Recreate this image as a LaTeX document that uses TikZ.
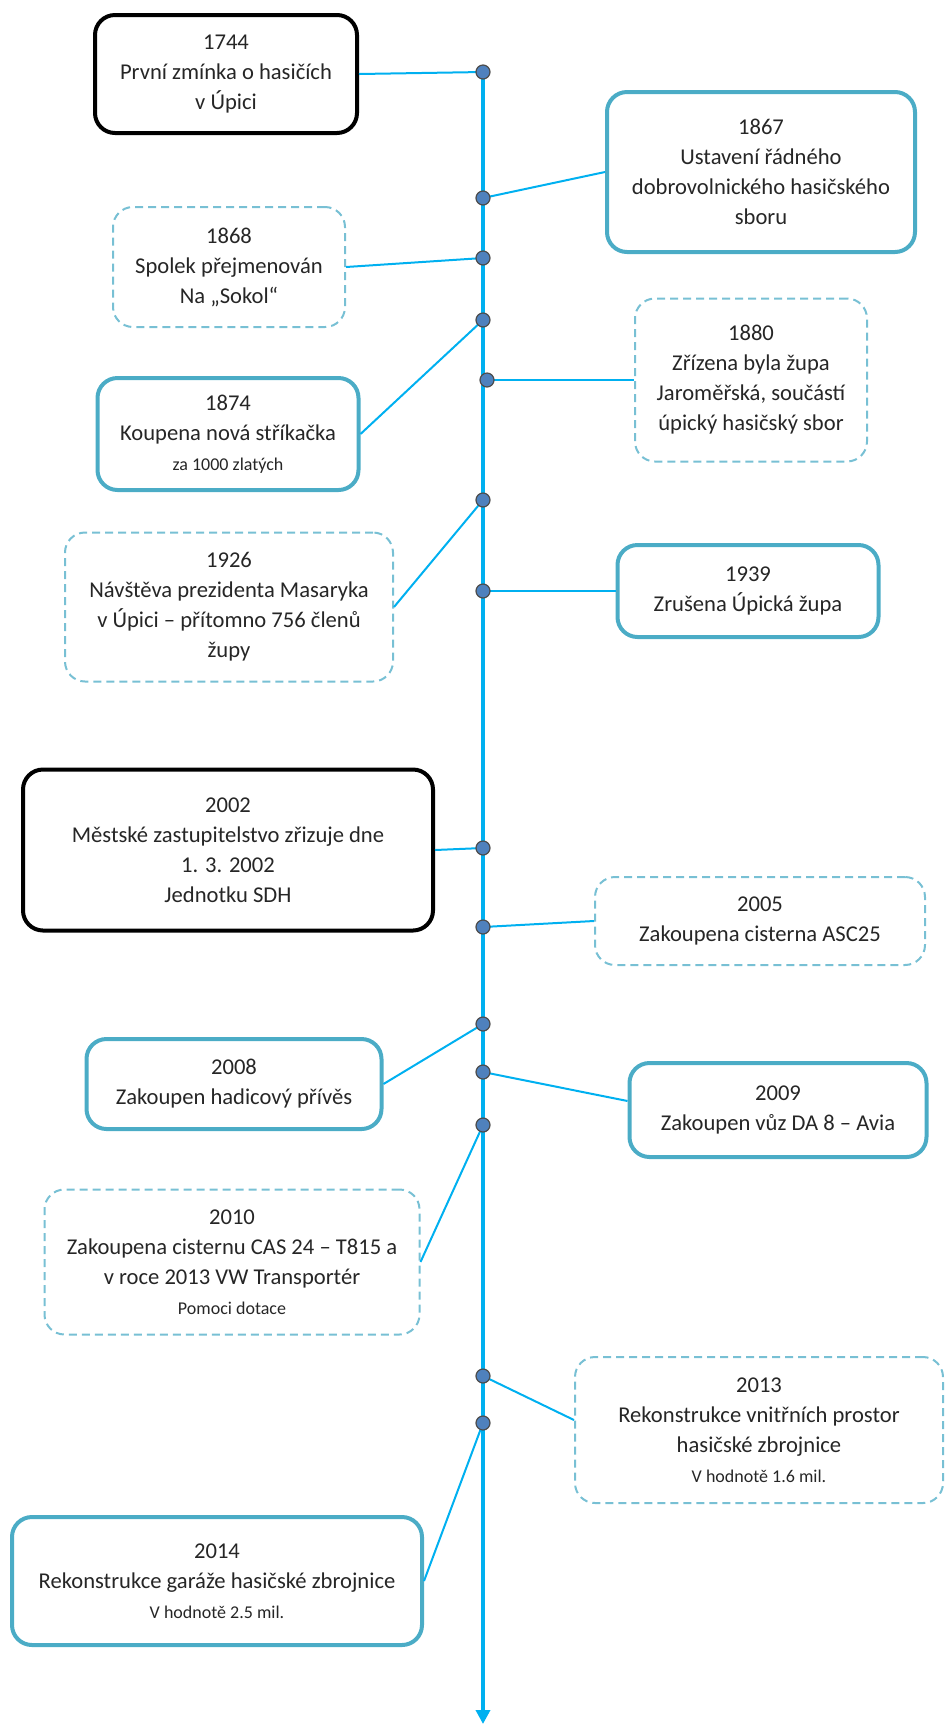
\documentclass[tikz,border=0pt]{standalone}
\usepackage{fontspec}
\setmainfont{Carlito}
\usetikzlibrary{arrows.meta}
\definecolor{osa}{RGB}{0,176,240}
\definecolor{tyrkys}{RGB}{75,172,198}
\definecolor{svetla}{RGB}{120,192,212}
\definecolor{bodmodra}{RGB}{79,129,189}
\newcommand{\drobne}{\fontsize{9}{11}\selectfont}

\begin{document}
\begin{tikzpicture}[x=0.5pt,y=-0.5pt,
   font=\fontsize{11.3}{15}\selectfont,
   udalost/.style={rounded corners=10pt,align=center,inner sep=2pt,text=black!85},
   pevny/.style={udalost,draw=tyrkys,line width=2pt},
   cerny/.style={udalost,draw=black,line width=2pt},
   carkovany/.style={udalost,draw=svetla,line width=1pt,dash pattern=on 4pt off 2.5pt},
   bod/.style={circle,fill=bodmodra,draw=black!70,line width=0.6pt,inner sep=0pt,minimum size=7pt},
   spoj/.style={osa,line width=1pt}]
   \useasboundingbox (0,0) rectangle (945,1726);

   \node[cerny,minimum width=131pt,minimum height=59pt] (b1744) at (226,74)
      {1744\\První zmínka o hasičích\\v Úpici};
   \node[pevny,minimum width=154pt,minimum height=80pt] (b1867) at (761,172)
      {1867\\Ustavení řádného\\dobrovolnického hasičského\\sboru};
   \node[carkovany,minimum width=116pt,minimum height=60pt] (b1868) at (229,267)
      {1868\\Spolek přejmenován\\Na „Sokol“};
   \node[pevny,minimum width=130.5pt,minimum height=56pt] (b1874) at (228,434)
      {1874\\Koupena nová stříkačka\\{\drobne za 1000 zlatých}};
   \node[carkovany,minimum width=116pt,minimum height=81.5pt] (b1880) at (751,380)
      {1880\\Zřízena byla župa\\Jaroměřská, součástí\\úpický hasičský sbor};
   \node[carkovany,minimum width=164pt,minimum height=74.5pt] (b1926) at (229,607)
      {1926\\Návštěva prezidenta Masaryka\\v Úpici – přítomno 756 členů\\župy};
   \node[pevny,minimum width=130.5pt,minimum height=46pt] (b1939) at (748,591)
      {1939\\Zrušena Úpická župa};
   \node[cerny,minimum width=205pt,minimum height=80.5pt] (b2002) at (228,850)
      {2002\\Městské zastupitelstvo zřizuje dne\\1. 3. 2002\\Jednotku SDH};
   \node[carkovany,minimum width=165pt,minimum height=44pt] (b2005) at (760,921)
      {2005\\Zakoupena cisterna ASC25};
   \node[pevny,minimum width=147.5pt,minimum height=45pt] (b2008) at (234,1084)
      {2008\\Zakoupen hadicový přívěs};
   \node[pevny,minimum width=148.5pt,minimum height=47pt] (b2009) at (778,1110)
      {2009\\Zakoupen vůz DA 8 – Avia};
   \node[carkovany,minimum width=187.5pt,minimum height=72.5pt] (b2010) at (232,1262)
      {2010\\Zakoupena cisternu CAS 24 – T815 a\\v roce 2013 VW Transportér\\{\drobne Pomoci dotace}};
   \node[carkovany,minimum width=184pt,minimum height=73pt] (b2013) at (759,1430)
      {2013\\Rekonstrukce vnitřních prostor\\hasičské zbrojnice\\{\drobne V hodnotě 1.6 mil.}};
   \node[pevny,minimum width=205pt,minimum height=64pt] (b2014) at (217,1581)
      {2014\\Rekonstrukce garáže hasičské zbrojnice\\{\drobne V hodnotě 2.5 mil.}};

   \coordinate (t1744) at (483,72);
   \coordinate (t1867) at (483,198);
   \coordinate (t1868) at (483,258);
   \coordinate (t1874) at (483,320);
   \coordinate (t1880) at (487,380);
   \coordinate (t1926) at (483,500);
   \coordinate (t1939) at (483,591);
   \coordinate (t2002) at (483,848);
   \coordinate (t2005) at (483,927);
   \coordinate (t2008) at (483,1024);
   \coordinate (t2009) at (483,1072);
   \coordinate (t2010) at (483,1125);
   \coordinate (t2013) at (483,1376);
   \coordinate (t2014) at (483,1423);
   \coordinate (konec) at (483,1724);

   \draw[osa,line width=2pt,-{Triangle[length=7pt,width=7pt]}] (t1744) -- (konec);

   \draw[spoj] (t1744) -- (b1744.east);
   \draw[spoj] (t1867) -- (b1867.west);
   \draw[spoj] (t1868) -- (b1868.east);
   \draw[spoj] (t1874) -- (b1874.east);
   \draw[spoj] (t1880) -- (b1880.west);
   \draw[spoj] (t1926) -- (b1926.east);
   \draw[spoj] (t1939) -- (b1939.west);
   \draw[spoj] (t2002) -- (b2002.east);
   \draw[spoj] (t2005) -- (b2005.west);
   \draw[spoj] (t2008) -- (b2008.east);
   \draw[spoj] (t2009) -- ([yshift=4.5pt]b2009.west);
   \draw[spoj] (t2010) -- (b2010.east);
   \draw[spoj] (t2013) -- ([yshift=5pt]b2013.west);
   \draw[spoj] (t2014) -- (b2014.east);

   \foreach \r in {1744,1867,1868,1874,1880,1926,1939,2002,2005,2008,2009,2010,2013,2014}
      \node[bod] (k\r) at (t\r) {};
\end{tikzpicture}
\end{document}
